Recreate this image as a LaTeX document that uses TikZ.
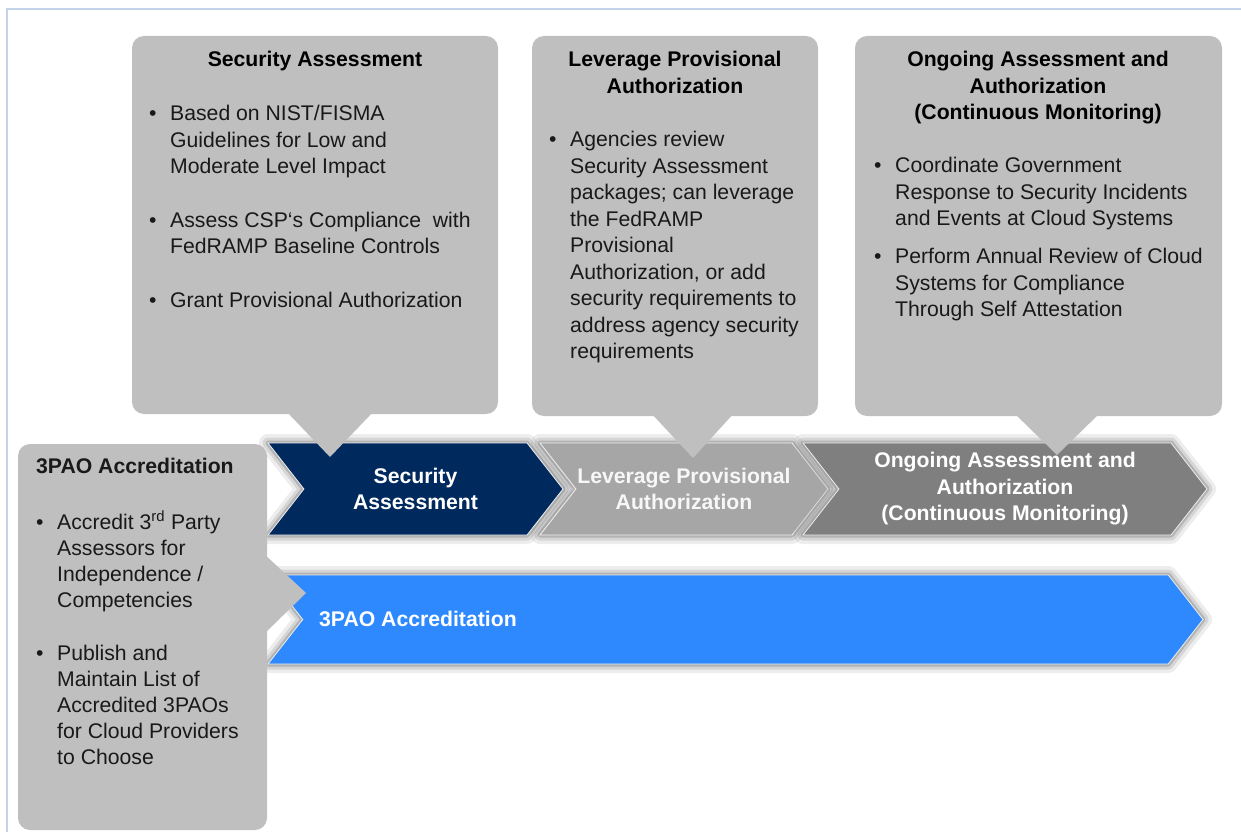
\documentclass[tikz,border=0pt]{standalone}
\usepackage{fontspec}
\setmainfont{Liberation Sans}
\usetikzlibrary{shapes.symbols}
\definecolor{bubblegray}{HTML}{BFBFBF}
\definecolor{navyblue}{HTML}{002A5E}
\definecolor{midgray}{HTML}{A6A6A6}
\definecolor{deepgray}{HTML}{7F7F7F}
\definecolor{brightblue}{HTML}{2E89FF}
\definecolor{frameblue}{HTML}{C3D4EA}
\newcommand{\itm}{\makebox[21pt][l]{\textbullet}}
\newcommand{\ind}{\hspace*{21pt}}
\begin{document}
\begin{tikzpicture}[x=1pt,y=-1pt,font=\fontsize{21.2}{26.5}\selectfont,
                    bubble/.style={fill=bubblegray,rounded corners=12pt,inner sep=0pt},
                    body/.style={align=left,inner sep=0pt,anchor=north west,text=black!90},
                    head/.style={align=center,inner sep=0pt,anchor=north,font=\fontsize{21.2}{26.5}\selectfont\bfseries},
                    chevron/.style={signal,signal from=west,signal to=east,signal pointer angle=104,
                      draw=white!85!gray,line width=0.8pt,inner sep=0pt,text=white,align=center,
                      font=\fontsize{21.2}{26.5}\selectfont\bfseries,
                      preaction={draw=black,opacity=0.07,line width=18pt,line join=round},
                      preaction={draw=black,opacity=0.10,line width=11pt,line join=round},
                      preaction={draw=black,opacity=0.16,line width=5pt,line join=round}}]
  \useasboundingbox (0,0) rectangle (1241,832);
  \draw[frameblue,line width=2pt] (1241,9) -- (7,9) -- (7,832);

  \node[chevron,fill=navyblue,minimum width=295pt,minimum height=92pt] (sa) at (415.5,489) {Security\\Assessment};
  \node[chevron,fill=midgray,text=white!94!gray,minimum width=288pt,minimum height=92pt] (lpa) at (684,489) {Leverage Provisional\\Authorization};
  \node[chevron,fill=deepgray,minimum width=404pt,minimum height=92pt] (oaa) at (1005,489) {Ongoing Assessment and\\Authorization\\(Continuous Monitoring)};
  \node[chevron,fill=brightblue,minimum width=935pt,minimum height=89pt] (tpa) at (735.5,619.5) {};
  \node[inner sep=0pt,anchor=west,text=white,font=\fontsize{21.2}{26.5}\selectfont\bfseries] (tpalabel) at (319,619) {3PAO Accreditation};

  \node[bubble,minimum width=366pt,minimum height=378pt] (sab) at (315,225) {};
  \coordinate (satip) at (330,457);
  \fill[bubblegray] (satip) -- +(-45,-47) -- +(45,-47) -- cycle;
  \node[bubble,minimum width=286pt,minimum height=380pt] (lpab) at (675,226) {};
  \coordinate (lpatip) at (693,458);
  \fill[bubblegray] (lpatip) -- +(-43,-46) -- +(42,-46) -- cycle;
  \node[bubble,minimum width=367pt,minimum height=380pt] (oaab) at (1038.5,226) {};
  \coordinate (oaatip) at (1057,455);
  \fill[bubblegray] (oaatip) -- +(-44,-43) -- +(44,-43) -- cycle;

  \node[bubble,minimum width=249pt,minimum height=386pt] (tpab) at (142.5,637) {};
  \coordinate (tpatip) at (306,593);
  \fill[bubblegray] (tpatip) -- +(-44,-41) -- +(-44,43) -- cycle;

  \node[head] (sah) at (315,51) {Security Assessment};
  \node[body] (sat) at (149,105) {\itm Based on NIST/FISMA\\ \ind Guidelines for Low and\\ \ind Moderate Level Impact\\[27pt]
    \itm Assess CSP‘s Compliance\ \ with\\ \ind FedRAMP Baseline Controls\\[27pt]
    \itm Grant Provisional Authorization};
  \node[head] (lpah) at (675,51) {Leverage Provisional\\Authorization};
  \node[body] (lpat) at (549,131) {\itm Agencies review\\ \ind Security Assessment\\ \ind packages; can leverage\\ \ind the FedRAMP\\
    \ind Provisional\\ \ind Authorization, or add\\ \ind security requirements to\\ \ind address agency security\\ \ind requirements};
  \node[head] (oaah) at (1038,51) {Ongoing Assessment and\\Authorization\\(Continuous Monitoring)};
  \node[body] (oaat) at (874,157) {\itm Coordinate Government\\ \ind Response to Security Incidents\\ \ind and Events at Cloud Systems\\[11.5pt]
    \itm Perform Annual Review of Cloud\\ \ind Systems for Compliance\\ \ind Through Self Attestation};
  \node[body,font=\fontsize{21.2}{26.5}\selectfont\bfseries] (tpah) at (36,458) {3PAO Accreditation};
  \node[body,font=\fontsize{21.2}{26}\selectfont] (tpatx) at (36,511) {\itm Accredit 3\textsuperscript{rd} Party\\ \ind Assessors for\\ \ind Independence /\\ \ind Competencies\\[27pt]
    \itm Publish and\\ \ind Maintain List of\\ \ind Accredited 3PAOs\\ \ind for Cloud Providers\\ \ind to Choose};
\end{tikzpicture}
\end{document}
